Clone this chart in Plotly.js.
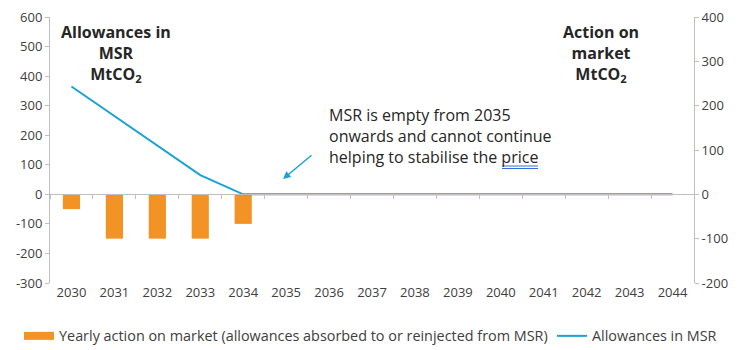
<!DOCTYPE html>
<html><head><meta charset="utf-8">
<script src="https://cdn.plot.ly/plotly-3.0.1.min.js"></script>
<style>html,body{margin:0;padding:0;background:#fff}#chart{width:743px;height:350px}</style>
</head><body><div id="chart"></div>
<script>
const years = ['2030','2031','2032','2033','2034','2035','2036','2037','2038','2039','2040','2041','2042','2043','2044'];
const actionOnMarket = [-50,-150,-150,-150,-100,null,null,null,null,null,null,null,null,null,null];
const allowancesInMSR = [365,265,165,65,0,0,0,0,0,0,0,0,0,0,0];
const leftTicks = [-300,-200,-100,0,100,200,300,400,500,600];
const leftTickText = ['-300','-200','-100','0','100','200','300','400','500','600'];
const rightTicks = [-200,-100,0,100,200,300,400];
const rightTickText = ['-200','-100','0','100','200','300','400'];

const orange = '#F39325', blue = '#1AA1D6', grey = '#BFBFBF', txt = '#404040';
const font = {family:'"Open Sans", sans-serif', size:13, color:txt};

const traces = [
  {type:'bar', x:years, y:actionOnMarket, marker:{color:orange}, width:0.4, showlegend:false, hoverinfo:'skip', yaxis:'y', xaxis:'x'},
  {type:'scatter', mode:'lines', x:[years[0]], y:[null], line:{color:orange, width:8}, name:'Yearly action on market (allowances absorbed to or reinjected from MSR)', hoverinfo:'skip', legend:'legend'},
  {type:'scatter', mode:'lines', x:years, y:allowancesInMSR, line:{color:blue, width:2}, name:'Allowances in MSR', hoverinfo:'skip', legend:'legend2'},
  {type:'scatter', mode:'none', x:[years[0]], y:[0], xaxis:'x2', yaxis:'y2', showlegend:false, hoverinfo:'skip'}
];

const P = (px) => (px-50)/644, Q = (py) => (283-py)/266;
const legendFont = {family:font.family, size:14.4, color:txt};

const layout = {
  width:743, height:350,
  margin:{l:50, r:49, t:17, b:67, autoexpand:false},
  paper_bgcolor:'#fff', plot_bgcolor:'#fff',
  font:font,
  showlegend:true,
  legend:{orientation:'h', xref:'container', yref:'container', x:(24-5)/743, xanchor:'left', y:(350-336)/350, yanchor:'middle', font:legendFont, bgcolor:'rgba(0,0,0,0)'},
  legend2:{orientation:'h', xref:'container', yref:'container', x:(557-5)/743, xanchor:'left', y:(350-336)/350, yanchor:'middle', font:legendFont, bgcolor:'rgba(0,0,0,0)'},
  xaxis:{type:'category', categoryorder:'array', categoryarray:years, showline:false, showgrid:false, zeroline:false, ticks:'', tickfont:{size:13, color:txt}, fixedrange:true},
  xaxis2:{type:'category', categoryorder:'array', categoryarray:years, overlaying:'x', matches:'x', anchor:'free', position:1/3, showline:true, linecolor:grey, linewidth:1, ticks:'outside', tickson:'boundaries', ticklen:4, tickcolor:grey, showticklabels:false, showgrid:false, zeroline:false},
  yaxis:{range:[-300,600], tickmode:'array', tickvals:leftTicks, ticktext:leftTickText, showline:true, linecolor:grey, ticks:'outside', ticklen:4, tickcolor:grey, showgrid:false, zeroline:false, tickfont:{size:13, color:txt}},
  yaxis2:{range:[-200,400], tickmode:'array', tickvals:rightTicks, ticktext:rightTickText, overlaying:'y', side:'right', anchor:'x', showline:true, linecolor:grey, ticks:'outside', ticklen:4, tickcolor:grey, showgrid:false, zeroline:false, tickfont:{size:13, color:txt}},
  bargap:0.6,
  shapes:[
    {type:'line', xref:'paper', yref:'paper', x0:P(502), x1:P(538), y0:Q(166), y1:Q(166), line:{color:'#3B6FD6', width:1}},
    {type:'line', xref:'paper', yref:'paper', x0:P(502), x1:P(538), y0:Q(168.5), y1:Q(168.5), line:{color:'#3B6FD6', width:1}}
  ],
  annotations:[
    {xref:'paper', yref:'paper', x:P(116), y:Q(53), xanchor:'center', yanchor:'middle', text:'<b>Allowances in<br>MSR<br>MtCO<sub>2</sub></b>', showarrow:false, align:'center', font:{size:16, color:'#262626'}},
    {xref:'paper', yref:'paper', x:P(601), y:Q(53), xanchor:'center', yanchor:'middle', text:'<b>Action on<br>market<br>MtCO<sub>2</sub></b>', showarrow:false, align:'center', font:{size:16, color:'#262626'}},
    {xref:'paper', yref:'paper', x:P(327), xanchor:'left', y:Q(136), yanchor:'middle', text:'MSR is empty from 2035<br>onwards and cannot continue<br>helping to stabilise the price', showarrow:false, align:'left', font:{size:16, color:'#262626'}},
    {xref:'paper', yref:'paper', x:P(283), y:Q(179), text:'', showarrow:true, arrowhead:2, arrowsize:1, arrowwidth:1.5, arrowcolor:blue, ax:30, ay:-25}
  ]
};
Plotly.newPlot('chart', traces, layout, {displayModeBar:false, staticPlot:true});
</script></body></html>
